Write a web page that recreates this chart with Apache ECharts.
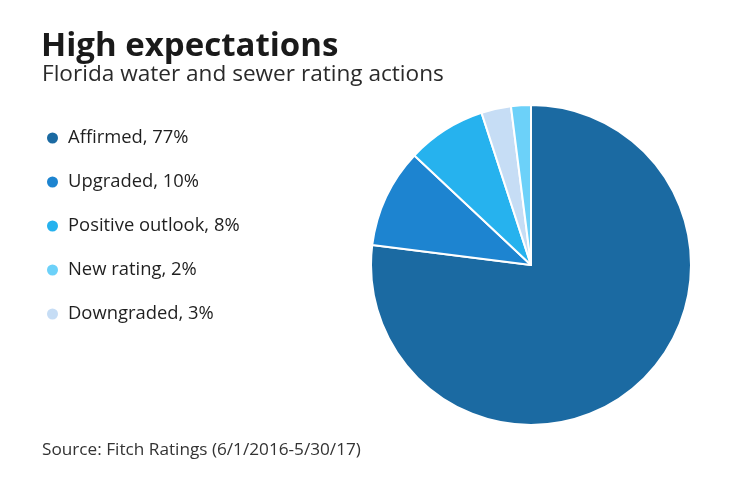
<!DOCTYPE html>
<html>
<head>
<meta charset="utf-8">
<script src="https://cdn.jsdelivr.net/npm/echarts@6/dist/echarts.min.js"></script>
<style>
  html, body { margin: 0; padding: 0; background: #fff; }
  #chart { width: 740px; height: 482px; }
</style>
</head>
<body>
<div id="chart"></div>
<script>
// slice order around the pie (clockwise from 12 o'clock)
const categories = ['Affirmed', 'Upgraded', 'Positive outlook', 'Downgraded', 'New rating'];
const shares = [77, 10, 8, 3, 2];
const colors = ['#1b6aa2', '#1d84d0', '#26b2ee', '#c6ddf5', '#6cd1f9'];
// legend lists them in a different order
const legendOrder = ['Affirmed', 'Upgraded', 'Positive outlook', 'New rating', 'Downgraded'];

const font = '"Open Sans", Lato, sans-serif';
const chart = echarts.init(document.getElementById('chart'));

const pieData = categories.map((name, i) => ({
    name: name,
    value: shares[i],
    itemStyle: { color: colors[i] }
}));

chart.setOption({
    animation: false,
    title: [{
        text: 'High expectations',
        left: 41, top: 30, padding: 0,
        textStyle: { fontFamily: font, fontSize: 33, fontWeight: 'bold', color: '#1a1a1a' }
    }, {
        text: 'Florida water and sewer rating actions',
        left: 42, top: 63, padding: 0,
        textStyle: { fontFamily: font, fontSize: 22.6, fontWeight: 'normal', color: '#2a2a2a' }
    }, {
        text: 'Source: Fitch Ratings (6/1/2016-5/30/17)',
        left: 42, top: 442, padding: 0,
        textStyle: { fontFamily: font, fontSize: 17.2, fontWeight: 'normal', color: '#333' }
    }],
    legend: {
        orient: 'vertical',
        left: 45, top: 129, padding: 0,
        icon: 'circle',
        itemWidth: 13, itemHeight: 13,
        itemGap: 26,
        data: legendOrder,
        selectedMode: false,
        formatter: name => name + ', ' + shares[categories.indexOf(name)] + '%',
        textStyle: { fontFamily: font, fontSize: 18.4, color: '#1f1f1f', padding: [0, 0, 0, 4] }
    },
    series: [{
        type: 'pie',
        center: [531, 265],
        radius: [0, 160],
        startAngle: 90,
        clockwise: true,
        label: { show: false },
        labelLine: { show: false },
        emphasis: { disabled: true },
        itemStyle: { borderColor: '#fff', borderWidth: 2 },
        data: pieData
    }]
});
</script>
</body>
</html>
